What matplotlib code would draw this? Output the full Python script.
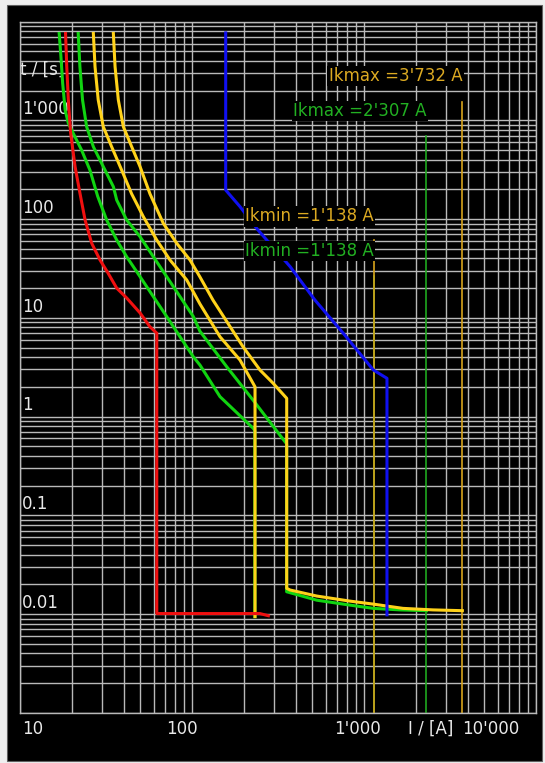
import numpy as np
import matplotlib
matplotlib.use("Agg")
import matplotlib.pyplot as plt
from matplotlib.ticker import LogLocator
from matplotlib.patches import Rectangle

# Time-current characteristics: current I in A, tripping time t in s
red_I = [18.4, 18.7, 19.1, 19.7, 20.9, 22.3, 23.9, 26.1, 29.2, 32.5, 36.5, 41.7,
         49.9, 57.0, 62.4, 62.4, 248, 278]
red_t = [7600, 3500, 1610, 745, 340, 184, 98, 57, 38.5, 28.4, 20.0, 15.9,
         11.2, 8.1, 7.0, 0.0101, 0.0101, 0.0096]

green_a_I = [16.9, 17.3, 17.7, 18.3, 19.1, 20.4, 22.8, 25.5, 28.3, 31.9, 36.5, 41.7,
             49.9, 59.6, 71.3, 85.2, 101.8, 111.3, 145.5, 227, 232, 232]
green_a_t = [7600, 4420, 2380, 1275, 934, 740, 501, 314, 170, 98, 61.4, 41.6,
             26.1, 16.4, 10.3, 6.43, 4.03, 3.32, 1.59, 0.76, 0.72, 0.0094]

green_b_I = [21.8, 22.3, 23.1, 24.4, 26.7, 30.5, 34.9, 36.5, 41.7, 49.9, 59.6, 71.3,
             85.2, 101.8, 111.3, 159.1, 226.3, 347.3, 355, 355, 531, 829, 1132,
             1619, 2307]
green_b_t = [7600, 3500, 1610, 863, 541, 340, 213, 156, 98, 66.3, 41.6, 26.1,
             16.4, 10.3, 7.3, 3.2, 1.47, 0.556, 0.53, 0.0168, 0.0138, 0.0123, 0.0114,
             0.0110, 0.0108]

yellow_a_I = [26.7, 27.3, 28.5, 30.5, 34.1, 39.0, 44.6, 52.1, 62.4, 74.5, 93.2,
              111.3, 145.5, 190.1, 232.5, 232.5]
yellow_a_t = [7600, 3500, 1610, 863, 541, 314, 180, 106, 61.4, 38.5, 24.2,
              13.8, 6.43, 3.74, 2.0, 0.0094]

yellow_b_I = [34.9, 35.7, 37.3, 39.9, 44.6, 49.9, 57.0, 68.1, 81.5, 97.4, 111.3,
              132.5, 197.9, 248.5, 295.8, 355.3, 355.3, 371.4, 530.9, 829, 1128,
              1685, 2518, 3732]
yellow_b_t = [7600, 3500, 1610, 863, 541, 340, 180, 90.6, 56.9, 38.5, 25.9,
              15.1, 5.10, 2.96, 2.18, 1.53, 0.0182, 0.0175, 0.0152, 0.0135, 0.0126,
              0.0114, 0.0110, 0.0108]

blue_I = [157, 157, 190, 242, 372, 519, 758, 1134, 1360, 1360]
blue_t = [7700, 197, 134, 77.5, 33, 15.1, 6.97, 2.96, 2.44, 0.0098]

# Short-circuit currents (green drawn before yellow)
ik_values = [2307, 3732, 1138, 1138]
ik_texts = ["Ikmax =2'307 A", "Ikmax =3'732 A", "Ikmin =1'138 A", "Ikmin =1'138 A"]
ik_line_top = [700, 1550, 26.5, 61]
ik_text_t = [1245, 2820, 47.5, 107]
ik_line_colors = ["#1fa81f", "#d8a41c", "#1fa81f", "#d8a41c"]
ik_text_colors = ["#22b022", "#dcaa22", "#22b022", "#dcaa22"]

y_tick_vals = [1000, 100, 10, 1, 0.1, 0.01]
y_tick_text = ["1'000", "100", "10", "1", "0.1", "0.01"]
x_tick_text = ["10", "100", "1'000", "I / [A]", "10'000"]
x_tick_pos = [0.005, 0.283, 0.609, 0.752, 0.857]

W, H = 545, 763
fig = plt.figure(figsize=(W / 100, H / 100), dpi=100, facecolor="#efefef")
fig.patches.append(Rectangle((6.5 / W, 2.5 / H), (541.5 - 6.5) / W, (758 - 2.5) / H,
                             transform=fig.transFigure, facecolor="black",
                             edgecolor="#606060", linewidth=0.8, zorder=-10))

ax = fig.add_axes([20 / W, 1 - 712.7 / H, 516 / W, (712.7 - 21.7) / H])
ax.set_facecolor("black")
ax.set_xscale("log")
ax.set_yscale("log")
ax.set_xlim(10, 10000)
ax.set_ylim(0.001, 10000)

grid_col = "#b9b9b9"
ax.set_xticks([10.0 ** k for k in range(1, 5)])
ax.set_yticks([10.0 ** k for k in range(-3, 5)])
ax.xaxis.set_minor_locator(LogLocator(base=10, subs=np.arange(2, 10), numticks=100))
ax.yaxis.set_minor_locator(LogLocator(base=10, subs=np.arange(2, 10), numticks=100))
ax.tick_params(which="both", length=0, labelleft=False, labelbottom=False)
ax.grid(which="both", color=grid_col, linewidth=1.0)
ax.set_axisbelow(True)
for sp in ax.spines.values():
    sp.set_color(grid_col)
    sp.set_linewidth(1.0)

font = "DejaVu Sans"
fs = 12

# Curves
lw = 2.2
ax.plot(green_a_I, green_a_t, color="#11d411", lw=lw, zorder=3)
ax.plot(green_b_I, green_b_t, color="#11d411", lw=lw, zorder=3)
ax.plot(yellow_a_I, yellow_a_t, color="#ffd21a", lw=lw, zorder=4)
ax.plot(yellow_b_I, yellow_b_t, color="#ffd21a", lw=lw, zorder=4)
ax.plot(red_I, red_t, color="#f01010", lw=lw, zorder=5)
ax.plot(blue_I, blue_t, color="#1010f0", lw=lw, zorder=5)

# Short-circuit current markers with their labels
for val, txt, top, ty, lc, tc in zip(ik_values, ik_texts, ik_line_top, ik_text_t,
                                     ik_line_colors, ik_text_colors):
    ax.plot([val, val], [top, 0.001], color=lc, lw=1.2, zorder=2.5)
    ax.text(val, ty, txt, ha="right", va="center", color=tc, fontsize=fs,
            family=font, zorder=6,
            bbox=dict(facecolor="black", edgecolor="none", pad=1.0))

# Axis labels drawn inside the plot area
for v, s in zip(y_tick_vals, y_tick_text):
    ax.annotate(s, xy=(0.004, v), xycoords=("axes fraction", "data"),
                xytext=(0, 4.5), textcoords="offset points", ha="left",
                va="baseline", color="#e8e8e8", fontsize=fs, family=font, zorder=2)
ax.annotate("t / [s]", xy=(0.0, 3240), xycoords=("axes fraction", "data"),
            xytext=(0, 0), textcoords="offset points", ha="left", va="center",
            color="#e8e8e8", fontsize=fs, family=font, zorder=2)

for xp, s in zip(x_tick_pos, x_tick_text):
    ax.annotate(s, xy=(xp, 0), xycoords="axes fraction", xytext=(0, -11.8),
                textcoords="offset points", ha="left", va="center",
                color="#e8e8e8", fontsize=fs, family=font, annotation_clip=False)

fig.savefig("out.png", dpi=100, facecolor=fig.get_facecolor())
